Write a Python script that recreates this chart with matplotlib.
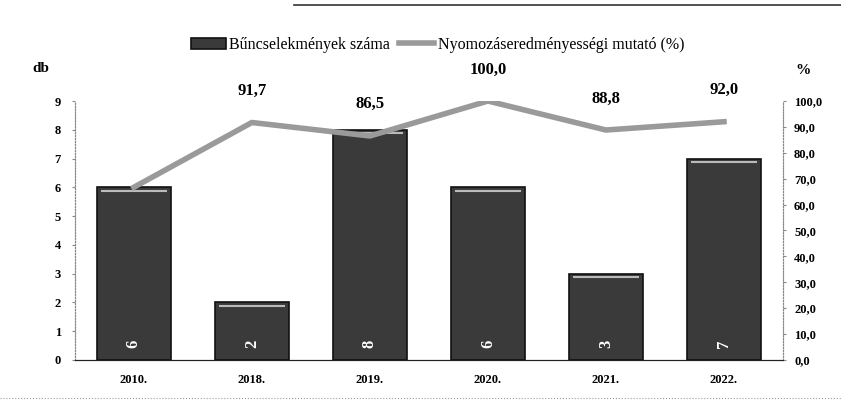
import matplotlib.pyplot as plt
import numpy as np

years = ['2010.', '2018.', '2019.', '2020.', '2021.', '2022.']
counts = [6, 2, 8, 6, 3, 7]
rates = [66.7, 91.7, 86.5, 100.0, 88.8, 92.0]
rate_labels = ['', '91,7', '86,5', '100,0', '88,8', '92,0']
left_ticks = list(range(0, 10))
right_ticks = list(range(0, 101, 10))

plt.rcParams['font.family'] = ['Liberation Serif', 'DejaVu Serif']

fig = plt.figure(figsize=(8.41, 4.09), dpi=100)
ax = fig.add_axes([0.089, 0.12, 0.842, 0.633])
ax2 = ax.twinx()

x = np.arange(len(years))
bars = ax.bar(x, counts, width=0.63, color='#3a3a3a', edgecolor='#111111',
              linewidth=1.2, zorder=2, label='Bűncselekmények száma')
# light stripe near the top of every bar
ax.hlines([c - 0.12 for c in counts], x - 0.28, x + 0.28, color='#bbbbbb',
          linewidth=1.5, zorder=3)
for xi, c in zip(x, counts):
    ax.text(xi, 0.55, str(c), rotation=90, ha='center', va='center',
            color='white', fontsize=12, fontweight='bold', zorder=4)

ax.set_xlim(-0.5, len(years) - 0.5)
ax.set_ylim(0, 9)
ax.set_yticks(left_ticks)
ax.set_yticklabels([str(t) for t in left_ticks], fontsize=9, fontweight='bold')
ax.set_xticks(x)
ax.set_xticklabels(years, fontsize=9, fontweight='bold')
ax.tick_params(axis='x', length=0, pad=10)
ax.tick_params(axis='y', length=2, pad=8, color='#888888')

line, = ax2.plot(x, rates, color='#9a9a9a', linewidth=4, zorder=5,
                 label='Nyomozáseredményességi mutató (%)')
for xi, r, lab in zip(x, rates, rate_labels):
    if lab:
        ax2.annotate(lab, (xi, r), xytext=(0, 17), textcoords='offset points',
                     ha='center', va='bottom', fontsize=12, fontweight='bold')
ax2.set_ylim(0, 100)
ax2.set_yticks(right_ticks)
ax2.set_yticklabels([f'{t:.1f}'.replace('.', ',') for t in right_ticks],
                    fontsize=9, fontweight='bold')
ax2.tick_params(axis='y', length=2, pad=6, color='#888888')

for a in (ax, ax2):
    a.spines['top'].set_visible(False)
    a.spines['left'].set_linestyle(':')
    a.spines['left'].set_color('#888888')
    a.spines['right'].set_linestyle(':')
    a.spines['right'].set_color('#888888')
    a.spines['bottom'].set_color('#222222')
    a.spines['bottom'].set_linewidth(0.8)

fig.text(0.048, 0.825, 'db', fontsize=11, fontweight='bold', ha='center')
fig.text(0.955, 0.82, '%', fontsize=11, fontweight='bold', ha='center')

fig.legend([bars, line], ['Bűncselekmények száma', 'Nyomozáseredményességi mutató (%)'],
           loc='center', bbox_to_anchor=(0.52, 0.89), ncol=2, frameon=False,
           fontsize=11.5, handlelength=2.2, handletextpad=0.2, columnspacing=0.6)

fig.add_artist(plt.Line2D([0.35, 1.0], [0.988, 0.988], color='#333333',
                          linewidth=1.2, transform=fig.transFigure))
fig.add_artist(plt.Line2D([0.0, 1.0], [0.027, 0.027], color='#999999',
                          linewidth=0.8, linestyle=':', transform=fig.transFigure))

fig.savefig('out.png', dpi=100)
